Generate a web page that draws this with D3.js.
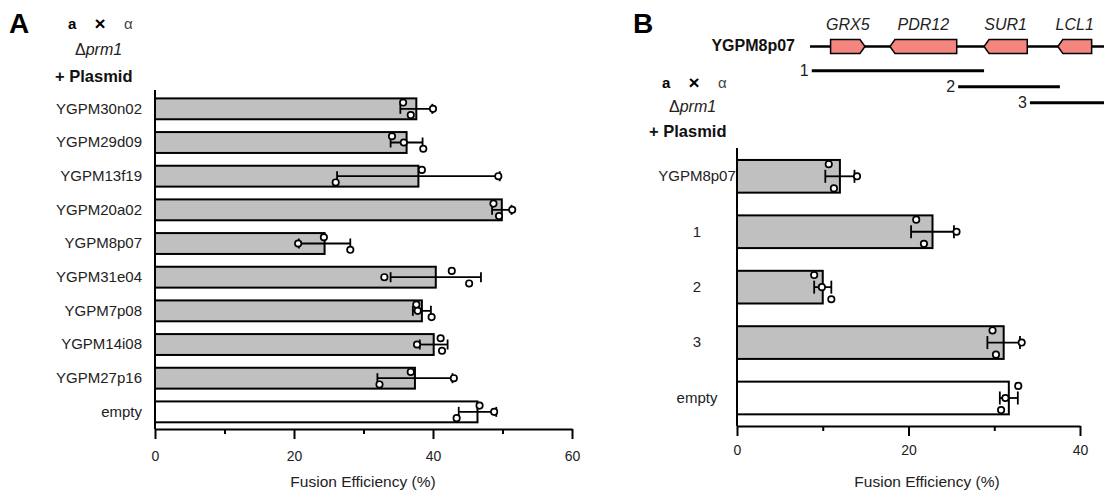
<!DOCTYPE html>
<html>
<head>
<meta charset="utf-8">
<script src="https://cdn.jsdelivr.net/npm/d3@7"></script>
<style>
  body { margin: 0; background: #fff; }
  svg { display: block; font-family: "Liberation Sans", Arial, sans-serif; }
</style>
</head>
<body>
<svg id="fig" width="1104" height="493"></svg>
<script>
// Panel A - plasmid screen
const screenLabels = ['YGPM30n02', 'YGPM29d09', 'YGPM13f19', 'YGPM20a02', 'YGPM8p07',
  'YGPM31e04', 'YGPM7p08', 'YGPM14i08', 'YGPM27p16', 'empty'];
const screenMeans = [37.6, 36.2, 37.9, 49.9, 24.4, 40.4, 38.4, 40.1, 37.4, 46.4];
const screenSd = [2.3, 2.3, 11.7, 1.4, 3.7, 6.5, 1.3, 2.0, 5.4, 2.7];
// replicates, listed as top / middle / bottom dot
const screenReps = [
  [35.7, 40.0, 36.8], [34.1, 35.8, 38.6], [38.4, 49.4, 26.0], [48.7, 51.4, 49.5],
  [24.3, 20.6, 28.1], [42.7, 33.0, 45.2], [37.6, 37.8, 39.8], [41.1, 37.7, 41.3],
  [36.8, 43.0, 32.3], [46.7, 48.8, 43.4]
];
const screenTicks = [0, 10, 20, 30, 40, 50, 60];

// Panel B - subclones of YGPM8p07
const subLabels = ['YGPM8p07', '1', '2', '3', 'empty'];
const subMeans = [12.0, 22.8, 10.0, 31.1, 31.7];
const subSd = [1.7, 2.5, 1.0, 1.9, 1.05];
const subReps = [
  [10.7, 14.0, 11.3], [20.9, 25.6, 21.8], [9.0, 9.9, 11.0], [29.8, 33.2, 30.2], [32.8, 31.3, 30.8]
];
const subTicks = [0, 10, 20, 30, 40];

// genomic map of the YGPM8p07 insert (arbitrary units)
const geneNames = ['GRX5', 'PDR12', 'SUR1', 'LCL1'];
const geneStart = [7.0, 27.2, 59.2, 84.3];
const geneEnd = [18.7, 49.9, 73.9, 95.8];
const geneStrand = [1, -1, -1, -1];
const fragNames = ['1', '2', '3'];
const fragStart = [0.6, 50.4, 74.8];
const fragEnd = [59.2, 85.0, 100];

const svg = d3.select('#fig');
const barGray = '#c0c0c0';

let drawPanel = function (p) {
  let x = d3.scaleLinear().domain(p.xDomain).range(p.xRange),
    y = d3.scaleBand().domain(p.labels).range(p.yRange)
      .paddingInner(p.pad).paddingOuter(p.pad / 2),
    bw = y.bandwidth(),
    g = svg.append('g');

  g.selectAll('rect.bar')
    .data(p.labels)
    .enter()
    .append('rect')
      .attr('class', 'bar')
      .attr('x', x(0))
      .attr('y', d => y(d))
      .attr('width', (d, i) => x(p.means[i]) - x(0))
      .attr('height', bw)
      .attr('fill', d => d === 'empty' ? '#fff' : barGray)
      .attr('stroke', '#000')
      .attr('stroke-width', 2);

  // error bars (SD)
  p.labels.forEach((d, i) => {
    let cy = y(d) + bw / 2,
      lo = x(p.means[i] - p.sd[i]),
      hi = x(p.means[i] + p.sd[i]);
    g.append('line')
      .attr('x1', lo).attr('x2', hi).attr('y1', cy).attr('y2', cy)
      .attr('stroke', '#000').attr('stroke-width', 1.8);
    [lo, hi].forEach(cx => {
      g.append('line')
        .attr('x1', cx).attr('x2', cx)
        .attr('y1', cy - p.cap).attr('y2', cy + p.cap)
        .attr('stroke', '#000').attr('stroke-width', 1.8);
    });
  });

  // replicate dots
  p.labels.forEach((d, i) => {
    let cy = y(d) + bw / 2;
    g.selectAll(null)
      .data(p.reps[i])
      .enter()
      .append('circle')
        .attr('cx', v => x(v))
        .attr('cy', (v, j) => cy + (j - 1) * bw * p.spread)
        .attr('r', 3.2)
        .attr('fill', '#fff')
        .attr('stroke', '#000')
        .attr('stroke-width', 1.7);
  });

  // x axis
  let xAxis = d3.axisBottom(x)
    .tickValues(p.ticks)
    .tickSize(10)
    .tickSizeOuter(0)
    .tickPadding(p.tickPad)
    .tickFormat(d => d % 20 === 0 ? d : '');
  let ax = g.append('g')
    .attr('transform', 'translate(0,' + p.axisY + ')')
    .call(xAxis);
  ax.select('.domain').attr('stroke-width', 2);
  ax.selectAll('.tick line').attr('stroke-width', 2);
  ax.selectAll('.tick line').filter(d => d % 20 !== 0).attr('y2', 5);
  ax.selectAll('.tick text')
    .attr('font-size', 14)
    .attr('font-family', '"Liberation Sans", Arial, sans-serif')
    .attr('fill', '#222');

  // y axis: plain line plus category labels
  g.append('line')
    .attr('x1', x(0)).attr('x2', x(0))
    .attr('y1', p.yTop).attr('y2', p.axisY)
    .attr('stroke', '#000').attr('stroke-width', 2);
  let yAxis = d3.axisLeft(y).tickSize(0).tickPadding(p.labelPad);
  let ay = g.append('g')
    .attr('transform', 'translate(' + x(0) + ',0)')
    .call(yAxis);
  ay.select('.domain').remove();
  ay.selectAll('.tick text')
    .attr('font-size', 15)
    .attr('font-family', '"Liberation Sans", Arial, sans-serif')
    .attr('fill', '#222')
    .attr('text-anchor', p.labelAnchor);

  g.append('text')
    .attr('x', p.titleX)
    .attr('y', 487)
    .attr('text-anchor', 'middle')
    .attr('font-size', 15.5)
    .attr('fill', '#222')
    .text('Fusion Efficiency (%)');
};

let drawHeader = function (letter, lx, hx, rows) {
  svg.append('text')
    .attr('x', lx).attr('y', 33)
    .attr('font-size', 28).attr('font-weight', 'bold')
    .text(letter);

  svg.append('text').attr('x', hx).attr('y', rows[0])
    .attr('font-size', 15).attr('font-weight', 'bold').text('a');
  svg.append('text').attr('x', hx + 32).attr('y', rows[0] + 1).attr('text-anchor', 'middle')
    .attr('font-size', 19).attr('font-weight', 'bold').text('×');
  svg.append('text').attr('x', hx + 56).attr('y', rows[0])
    .attr('font-size', 15).attr('fill', '#444').text('α');

  let t = svg.append('text').attr('x', hx + 7).attr('y', rows[1])
    .attr('font-size', 16).attr('fill', '#222');
  t.append('tspan').text('Δ');
  t.append('tspan').attr('font-style', 'italic').text('prm1');

  svg.append('text').attr('x', hx - 13).attr('y', rows[2])
    .attr('font-size', 16.5).attr('font-weight', 'bold').attr('fill', '#111')
    .text('+ Plasmid');
};

drawHeader('A', 9, 68, [28.5, 55, 82]);
drawHeader('B', 633, 662, [88, 111.7, 137]);

drawPanel({
  labels: screenLabels, means: screenMeans, sd: screenSd, reps: screenReps,
  xDomain: [0, 60], xRange: [155, 572], yRange: [92, 428.7], yTop: 90,
  pad: 0.38, spread: 0.3, cap: 5, axisY: 429, ticks: screenTicks, tickPad: 12,
  labelPad: 13, labelAnchor: 'end', titleX: 363
});

drawPanel({
  labels: subLabels, means: subMeans, sd: subSd, reps: subReps,
  xDomain: [0, 40], xRange: [737, 1080], yRange: [148.6, 425.7], yTop: 148,
  pad: 0.41, spread: 0.37, cap: 6.5, axisY: 426, ticks: subTicks, tickPad: 9,
  labelPad: 40, labelAnchor: 'middle', titleX: 927
});

// Gene map
let gx = d3.scaleLinear().domain([0, 100]).range([810, 1104]);
const mapY = 46.5, geneH = 14, headLen = 5;

svg.append('text')
  .attr('x', 795).attr('y', 51)
  .attr('text-anchor', 'end')
  .attr('font-size', 16).attr('font-weight', 'bold').attr('fill', '#111')
  .text('YGPM8p07');

svg.append('line')
  .attr('x1', gx(0)).attr('x2', gx(100)).attr('y1', mapY).attr('y2', mapY)
  .attr('stroke', '#000').attr('stroke-width', 2.5);

svg.selectAll('path.gene')
  .data(geneNames)
  .enter()
  .append('path')
    .attr('class', 'gene')
    .attr('d', (d, i) => {
      let a = gx(geneStart[i]), b = gx(geneEnd[i]),
        t = mapY - geneH / 2, bt = mapY + geneH / 2;
      if (geneStrand[i] > 0) {
        return 'M' + a + ',' + t + 'H' + (b - headLen) + 'L' + b + ',' + mapY +
          'L' + (b - headLen) + ',' + bt + 'H' + a + 'Z';
      }
      return 'M' + b + ',' + t + 'H' + (a + headLen) + 'L' + a + ',' + mapY +
        'L' + (a + headLen) + ',' + bt + 'H' + b + 'Z';
    })
    .attr('fill', '#f4857f')
    .attr('stroke', '#000')
    .attr('stroke-width', 1.5);

svg.selectAll('text.gene')
  .data(geneNames)
  .enter()
  .append('text')
    .attr('class', 'gene')
    .attr('x', (d, i) => gx((geneStart[i] + geneEnd[i]) / 2))
    .attr('y', 30)
    .attr('text-anchor', 'middle')
    .attr('font-size', 16)
    .attr('font-style', 'italic')
    .attr('fill', '#222')
    .text(d => d);

fragNames.forEach((d, i) => {
  let fy = 70.7 + i * 16;
  svg.append('line')
    .attr('x1', gx(fragStart[i])).attr('x2', gx(fragEnd[i]))
    .attr('y1', fy).attr('y2', fy)
    .attr('stroke', '#000').attr('stroke-width', 3);
  svg.append('text')
    .attr('x', gx(fragStart[i]) - 3).attr('y', fy)
    .attr('dy', '0.36em')
    .attr('text-anchor', 'end')
    .attr('font-size', 16)
    .attr('fill', '#222')
    .text(d);
});
</script>
</body>
</html>
